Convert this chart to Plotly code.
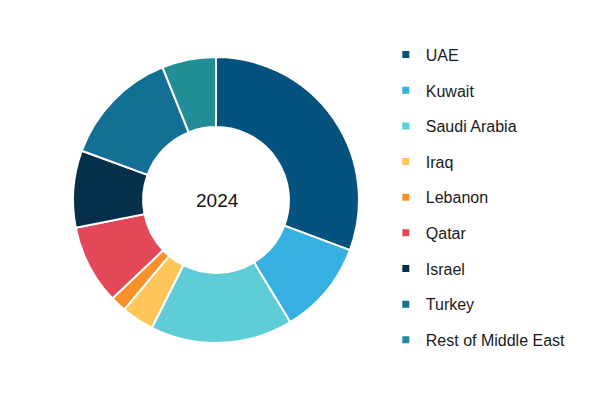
import plotly.graph_objects as go

categories = ["UAE", "Kuwait", "Saudi Arabia", "Iraq", "Lebanon", "Qatar",
              "Israel", "Turkey", "Rest of Middle East"]
shares = [30.7, 10.6, 16.1, 3.7, 1.8, 9.0, 8.7, 13.3, 6.1]
colors = ["#06527F", "#35B0E1", "#5FCDD8", "#FFC75A", "#F7922B", "#E34858",
          "#062F4B", "#136F94", "#238D96"]
center_label = "2024"

fig = go.Figure()
fig.add_trace(go.Pie(
    labels=categories, values=shares, sort=False, direction="clockwise",
    rotation=0, hole=0.51, textinfo="none", hoverinfo="label+percent",
    marker=dict(colors=colors, line=dict(color="white", width=2)),
    domain=dict(x=[0.1217, 0.5983], y=[0.136, 0.8564]),
    showlegend=False,
))
for name, c in zip(categories, colors):
    fig.add_trace(go.Scatter(
        x=[None], y=[None], mode="markers", name=name, legendgroup=name,
        marker=dict(symbol="square", size=7, color=c),
    ))

fig.add_annotation(text=center_label, x=0.3617, y=0.496, xref="paper", yref="paper",
                   showarrow=False, font=dict(size=19, color="#111111",
                                              family="Liberation Sans, Arial, sans-serif"))
fig.update_layout(
    width=600, height=397, margin=dict(l=0, r=0, t=0, b=0),
    paper_bgcolor="white", plot_bgcolor="white",
    xaxis=dict(visible=False), yaxis=dict(visible=False),
    legend=dict(x=0.643, y=0.905, xanchor="left", yanchor="top",
                tracegroupgap=11.85, itemclick=False,
                font=dict(size=16, color="#1a1a1a",
                          family="Liberation Sans, Arial, sans-serif")),
)
fig.write_html("out.html", config={"displayModeBar": False},
               post_script="document.body.style.margin='0';")
